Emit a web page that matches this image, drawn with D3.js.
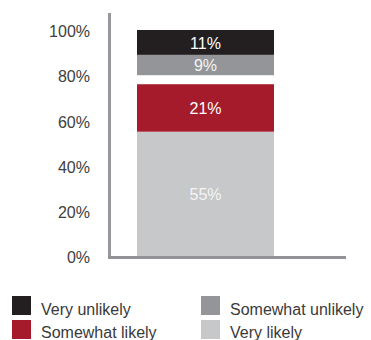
<!DOCTYPE html>
<html>
<head>
<meta charset="utf-8">
<script src="https://cdn.jsdelivr.net/npm/d3@7"></script>
<style>
  html, body { margin: 0; padding: 0; background: #fff; }
  svg { display: block; font-family: "Liberation Sans", Arial, sans-serif; }
</style>
</head>
<body>
<svg id="chart" width="371" height="340"></svg>
<script>
// Stacked shares, bottom to top
const categories = ["Very likely", "Somewhat likely", "Somewhat unlikely", "Very unlikely"];
const values = [55, 21, 9, 11];
const colors = ["#c7c8ca", "#a51b2b", "#939598", "#231f20"];
const labelColors = ["#f4f4f4", "#ffffff", "#f4f4f4", "#ffffff"];
const tickValues = [0, 20, 40, 60, 80, 100];
// legend reading order (two columns)
const legendOrder = ["Very unlikely", "Somewhat unlikely", "Somewhat likely", "Very likely"];

// The remainder not covered by the four answers is left blank between the likely and unlikely blocks
const remainder = 100 - d3.sum(values);

const svg = d3.select("#chart");

const y = d3.scaleLinear().domain([0, 100]).range([256, 30]);
const barX = 137, barW = 137;

// build stacked segments
let acc = 0;
const segments = [];
values.forEach((v, i) => {
  if (i === 2) acc += remainder;
  segments.push({ key: categories[i], v, y0: acc, y1: acc + v, color: colors[i], lc: labelColors[i] });
  acc += v;
});

svg.append("g").selectAll("rect").data(segments).join("rect")
  .attr("x", barX)
  .attr("width", barW)
  .attr("y", d => y(d.y1))
  .attr("height", d => y(d.y0) - y(d.y1))
  .attr("fill", d => d.color);

svg.append("g").selectAll("text").data(segments).join("text")
  .attr("x", barX + barW / 2)
  .attr("y", d => (y(d.y0) + y(d.y1)) / 2 + 0.5)
  .attr("dy", "0.36em")
  .attr("text-anchor", "middle")
  .attr("font-size", 16)
  .attr("fill", d => d.lc)
  .text(d => d.v + "%");

// y axis labels
const yAxis = d3.axisLeft(y).tickValues(tickValues).tickFormat(d => d + "%").tickSize(0).tickPadding(0);
const gy = svg.append("g").attr("transform", "translate(90,1)").call(yAxis);
gy.select(".domain").remove();
gy.selectAll("text")
  .attr("font-size", 16)
  .attr("fill", "#404040")
  .attr("font-family", "Liberation Sans, Arial, sans-serif")
  .attr("dy", "0.36em");

// axis lines
svg.append("line").attr("x1", 109.5).attr("x2", 109.5).attr("y1", 13).attr("y2", 259)
  .attr("stroke", "#98989c").attr("stroke-width", 3);
svg.append("line").attr("x1", 108).attr("x2", 346).attr("y1", 257.5).attr("y2", 257.5)
  .attr("stroke", "#939397").attr("stroke-width", 3);

// legend
const legend = svg.append("g");
legendOrder.forEach((name, i) => {
  const col = i % 2, row = Math.floor(i / 2);
  const lx = col === 0 ? 12 : 201;
  const ly = row === 0 ? 296 : 320;
  const idx = categories.indexOf(name);
  legend.append("rect").attr("x", lx).attr("y", ly).attr("width", 19).attr("height", 19)
    .attr("fill", colors[idx]);
  legend.append("text").attr("x", lx + 29).attr("y", row === 0 ? 315 : 337.5)
    .attr("font-size", 16).attr("fill", "#3a3a3a").text(name);
});
</script>
</body>
</html>
